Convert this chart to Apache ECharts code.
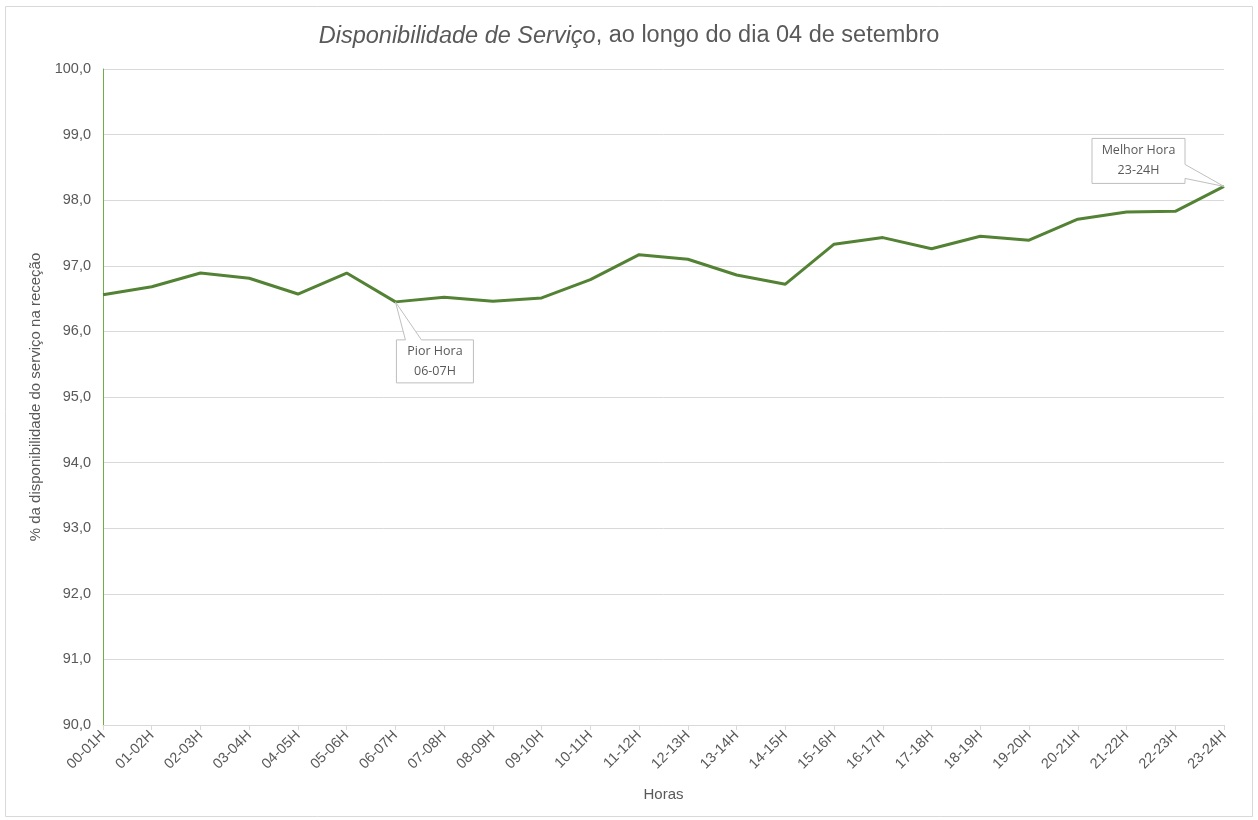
<!DOCTYPE html>
<html><head><meta charset="utf-8">
<script src="https://cdn.jsdelivr.net/npm/echarts@6/dist/echarts.min.js"></script>
<style>html,body{margin:0;padding:0;background:#fff}#c{width:1258px;height:820px}</style>
</head><body><div id="c"></div>
<script>
const categories = ['00-01H','01-02H','02-03H','03-04H','04-05H','05-06H','06-07H','07-08H','08-09H','09-10H','10-11H','11-12H','12-13H','13-14H','14-15H','15-16H','16-17H','17-18H','18-19H','19-20H','20-21H','21-22H','22-23H','23-24H'];
const availability = [96.56,96.68,96.89,96.81,96.57,96.89,96.45,96.52,96.46,96.51,96.79,97.17,97.10,96.86,96.72,97.33,97.43,97.26,97.45,97.39,97.71,97.82,97.83,98.21];
const yTicks = [90,91,92,93,94,95,96,97,98,99,100];
const worstIdx = 6, bestIdx = 23;
const worstLabel = ['Pior Hora', '06-07H'];
const bestLabel = ['Melhor Hora', '23-24H'];

const chart = echarts.init(document.getElementById('c'));
const txt = '#595959';
chart.setOption({
  animation:false,
  title:{
    text:'{i|Disponibilidade de Serviço}{n|, ao longo do dia 04 de setembro}',
    left:'center', top:19,
    textStyle:{fontWeight:'normal',rich:{
      i:{fontFamily:'Liberation Sans',fontSize:23.5,fontStyle:'italic',fontWeight:'normal',color:txt},
      n:{fontFamily:'Liberation Sans',fontSize:23.5,fontWeight:'normal',color:txt}
    }}
  },
  grid:{left:103,right:34,top:69,bottom:95},
  xAxis:{
    type:'category', data:categories, boundaryGap:false,
    name:'Horas', nameLocation:'middle', nameGap:62,
    nameTextStyle:{fontFamily:'Liberation Sans',fontSize:15,color:txt},
    axisLine:{lineStyle:{color:'#d9d9d9',width:1}},
    axisTick:{show:true,length:5,lineStyle:{color:'#d9d9d9'}},
    axisLabel:{rotate:45,fontFamily:'Liberation Sans',fontSize:14.5,color:txt,margin:8}
  },
  yAxis:{
    type:'value', min:90, max:100, interval:1,
    name:'% da disponibilidade do serviço na receção', nameLocation:'middle', nameGap:55,
    nameTextStyle:{fontFamily:'Liberation Sans',fontSize:15,color:txt},
    axisLine:{show:true,lineStyle:{color:'#70ad47',width:1}},
    axisTick:{show:false},
    axisLabel:{fontFamily:'Liberation Sans',fontSize:14.5,color:txt,margin:12,
      formatter:v=>yTicks.includes(v)?v.toFixed(1).replace('.',','):''},
    splitLine:{lineStyle:{color:'#d9d9d9',width:1}}
  },
  series:[{
    type:'line', data:availability, symbol:'none',
    lineStyle:{color:'#548235',width:3}
  }]
});

const w = chart.convertToPixel({seriesIndex:0},[worstIdx, availability[worstIdx]]);
const b = chart.convertToPixel({seriesIndex:0},[bestIdx, availability[bestIdx]]);
const boxStyle = {fill:'#fff',stroke:'#bfbfbf',lineWidth:1};
const lblStyle = {fontFamily:'Open Sans',fontSize:12.5,fill:'#595959',align:'center',verticalAlign:'middle',lineHeight:20};
chart.setOption({graphic:[
  {type:'rect',shape:{x:5.5,y:6.5,width:1247,height:810},style:{fill:'none',stroke:'#d9d9d9',lineWidth:1},silent:true},
  {type:'polygon',shape:{points:[
    [w[0],w[1]],[w[0]+26,w[1]+38],[w[0]+78,w[1]+38],[w[0]+78,w[1]+81],[w[0]+1,w[1]+81],[w[0]+1,w[1]+38],[w[0]+10,w[1]+38]
  ]},style:boxStyle,z:10},
  {type:'text',x:w[0]+39.5,y:w[1]+59.5,style:Object.assign({text:worstLabel.join('\n')},lblStyle),z:11},
  {type:'polygon',shape:{points:[
    [b[0],b[1]],[b[0]-39,b[1]-8],[b[0]-39,b[1]-3],[b[0]-132,b[1]-3],[b[0]-132,b[1]-48],[b[0]-39,b[1]-48],[b[0]-39,b[1]-22]
  ]},style:boxStyle,z:10},
  {type:'text',x:b[0]-85.5,y:b[1]-25.5,style:Object.assign({text:bestLabel.join('\n')},lblStyle),z:11}
]});
</script></body></html>
